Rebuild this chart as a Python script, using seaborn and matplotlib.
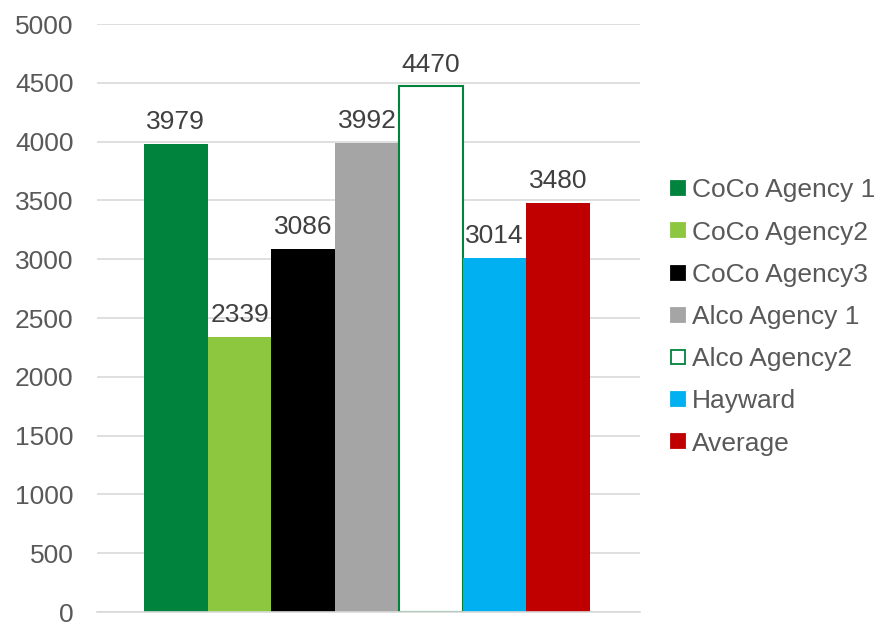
import matplotlib
matplotlib.use("Agg")
import matplotlib.pyplot as plt
from matplotlib.lines import Line2D
import seaborn as sns
import pandas as pd

series = ["CoCo Agency 1", "CoCo Agency2", "CoCo Agency3", "Alco Agency 1",
          "Alco Agency2", "Hayward", "Average"]
values = [3979, 2339, 3086, 3992, 4470, 3014, 3480]
colors = ["#00843D", "#8DC63F", "#000000", "#A5A5A5", "#FFFFFF", "#00B0F0", "#C00000"]
edge_green = "#00843D"
yticks = [0, 500, 1000, 1500, 2000, 2500, 3000, 3500, 4000, 4500, 5000]

sns.set_theme(style="white")
plt.rcParams['font.family'] = ['Liberation Sans', 'DejaVu Sans']

df = pd.DataFrame({"group": ["g"] * len(series), "series": series, "value": values})

fig = plt.figure(figsize=(8.78, 6.22), dpi=100)
ax = fig.add_axes([97 / 878, 1 - 612 / 622, (640 - 97) / 878, (612 - 24) / 622])

sns.barplot(data=df, x="group", y="value", hue="series", hue_order=series,
            palette=dict(zip(series, colors)), width=0.8, gap=0, saturation=1,
            legend=False, ax=ax, errorbar=None, linewidth=0)

for i, cont in enumerate(ax.containers):
    if series[i] == "Alco Agency2":
        for p in cont.patches:
            p.set_facecolor("white")
            p.set_edgecolor(edge_green)
            p.set_linewidth(1.5)
    ax.bar_label(cont, padding=7, fontsize=19, color="#404040")

ax.set_ylim(0, 5000)
ax.set_xlim(-0.4843, 0.4897)
ax.set_yticks(yticks)
ax.set_xticks([])
ax.set_xlabel("")
ax.set_ylabel("")
ax.tick_params(axis="y", labelsize=19, labelcolor="#595959", length=0, pad=17)
ax.yaxis.grid(True, color="#D9D9D9", linewidth=1.2)
ax.set_axisbelow(True)
for s in ["top", "right", "left"]:
    ax.spines[s].set_visible(False)
ax.spines["bottom"].set_color("#D9D9D9")
ax.spines["bottom"].set_linewidth(1.2)

handles = []
for name, c in zip(series, colors):
    ec = edge_green if name == "Alco Agency2" else c
    handles.append(Line2D([], [], marker="s", linestyle="", markersize=10,
                          markerfacecolor=c, markeredgecolor=ec, markeredgewidth=1.3))
leg = fig.legend(handles, series, loc="center left", bbox_to_anchor=(660 / 878, 1 - 317 / 622),
                 frameon=False, fontsize=19, labelspacing=0.69, handlelength=0.55,
                 handletextpad=0.25, borderaxespad=0)
for t in leg.get_texts():
    t.set_color("#595959")

fig.savefig("out.png", dpi=100)
